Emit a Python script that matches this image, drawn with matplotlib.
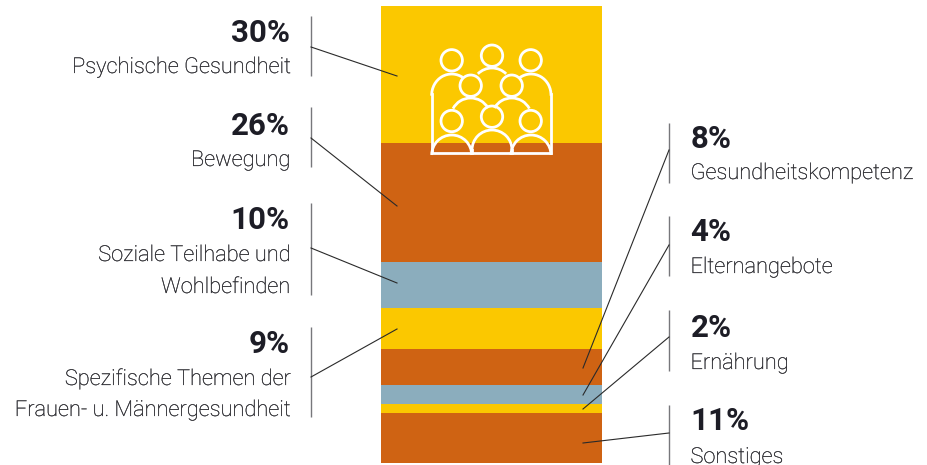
import matplotlib
matplotlib.use('Agg')
import matplotlib.pyplot as plt
import matplotlib.patheffects as pe
from matplotlib.patches import Arc, Circle

# shares from top to bottom of the stack
percents = [30, 26, 10, 9, 8, 4, 2, 11]
percent_labels = ['30%', '26%', '10%', '9%', '8%', '4%', '2%', '11%']
categories = ['Psychische Gesundheit', 'Bewegung', 'Soziale Teilhabe und\nWohlbefinden',
              'Spezifische Themen der\nFrauen- u. Männergesundheit',
              'Gesundheitskompetenz', 'Elternangebote', 'Ernährung', 'Sonstiges']
seg_colors = ['#FBC800', '#CF6313', '#8BADBD', '#FBC800', '#CF6313', '#8BADBD', '#FBC800', '#CF6313']

W, H = 927, 465
NUM_TEXT = '#1D1D26'
LABEL_TEXT = '#2E2E33'
LINE_GRAY = '#77777B'

# text anchors in pixels: baseline of the number, baselines of the label lines
left_text = {0: (42, [73]), 1: (135, [166]), 2: (229, [261, 293]), 3: (353, [385, 416])}
right_text = {4: (148, [179]), 5: (241, [273]), 6: (337, [369]), 7: (430, [463])}
# vertical rule (y0, y1) and leader line (rule y, end x, end y)
rules = {0: (16, 76), 1: (107, 167), 2: (203, 295), 3: (327, 417),
         4: (123, 183), 5: (216, 276), 6: (310, 371), 7: (405, 465)}
leaders = {0: (47, 397, 76), 1: (138, 397, 206), 2: (248, 397, 283), 3: (377, 397, 329),
           4: (150, 583, 368), 5: (245, 583, 395), 6: (337, 583, 409), 7: (433, 583, 443)}


def draw_stack(fig):
    """ the stacked bar itself, in percent units """
    ax = fig.add_axes([381 / W, 1 - 463 / H, (602 - 381) / W, (463 - 6) / H])
    bottom = 0
    for p, c in zip(percents, seg_colors):
        ax.bar(0, p, bottom=bottom, width=1, color=c, linewidth=0)
        bottom += p
    ax.set_xlim(-0.5, 0.5)
    ax.set_ylim(100, 0)
    ax.axis('off')


def draw_icon(ax):
    """ the white group of people on top of the first segment """
    lw = 2.0
    style = dict(fill=False, edgecolor='white', linewidth=lw, zorder=5)
    heads = [(451.7, 60.3), (492, 55.7), (530.7, 60.3), (470.7, 85.7), (511.7, 85.7),
             (451.7, 121), (492, 116.7), (530.7, 121)]
    for c in heads:
        ax.add_patch(Circle(c, 10.7, **style))
    # frame
    ax.plot([431.7, 431.7, 551, 551], [94, 153, 153, 94], color='white', lw=lw, zorder=5,
            solid_joinstyle='miter')
    # y axis is inverted so the angles run clockwise on screen from +x
    ax.add_patch(Arc((451.7, 95), 40, 42, theta1=178, theta2=303, **style))
    ax.add_patch(Arc((531, 95), 40, 42, theta1=237, theta2=362, **style))
    ax.add_patch(Arc((492, 88), 40, 40, theta1=225, theta2=315, **style))
    ax.add_patch(Arc((470.7, 118), 40, 40, theta1=208, theta2=330, **style))
    ax.add_patch(Arc((511.7, 118), 40, 40, theta1=210, theta2=332, **style))
    ax.add_patch(Arc((451.7, 155), 40, 40, theta1=180, theta2=360, **style))
    ax.add_patch(Arc((531, 155), 40, 40, theta1=180, theta2=360, **style))
    ax.add_patch(Arc((492, 150), 40, 40, theta1=180, theta2=360, **style))
    ax.plot([471.7, 471.7], [150, 153], color='white', lw=lw, zorder=5)
    ax.plot([512, 512], [150, 153], color='white', lw=lw, zorder=5)


def draw_labels(ax):
    # the light face renders thinner here than in the original, so thicken it a little
    thicken = [pe.withStroke(linewidth=0.15, foreground=LABEL_TEXT)]
    for i in range(len(percents)):
        on_left = i in left_text
        num_y, label_ys = left_text[i] if on_left else right_text[i]
        x = 290 if on_left else 690.5
        ha = 'right' if on_left else 'left'
        ax.text(x, num_y, percent_labels[i], ha=ha, va='baseline', fontsize=22.5,
                fontweight='bold', color=NUM_TEXT)
        for line, y in zip(categories[i].split('\n'), label_ys):
            ax.text(x, y, line, ha=ha, va='baseline', fontsize=15.7, fontweight='light',
                    color=LABEL_TEXT, path_effects=thicken)

        rule_x = 311 if on_left else 669
        ax.plot([rule_x, rule_x], rules[i], color=LINE_GRAY, lw=1.0, solid_capstyle='butt', zorder=3)
        y0, x1, y1 = leaders[i]
        ax.plot([rule_x, x1], [y0, y1], color='#2A2A2A', lw=0.8, zorder=4)


def Main():
    plt.rcParams['font.family'] = ['Roboto', 'DejaVu Sans']
    fig = plt.figure(figsize=(W / 100, H / 100), dpi=100, facecolor='white')
    draw_stack(fig)

    # overlay in pixel coordinates for the annotations
    ax = fig.add_axes([0, 0, 1, 1])
    ax.set_xlim(0, W)
    ax.set_ylim(H, 0)
    ax.axis('off')
    ax.patch.set_alpha(0)
    draw_icon(ax)
    draw_labels(ax)

    fig.savefig('out.png', dpi=100)


if __name__ == '__main__':
    Main()
